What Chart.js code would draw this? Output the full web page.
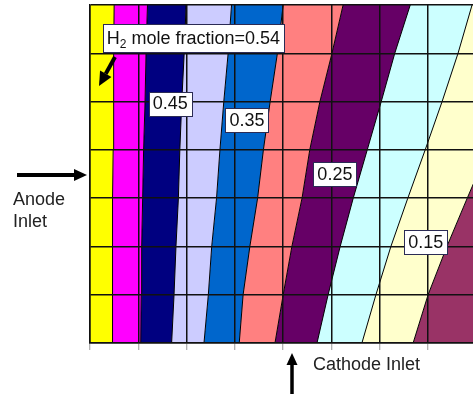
<!DOCTYPE html>
<html>
<head>
<meta charset="utf-8">
<script src="https://cdn.jsdelivr.net/npm/chart.js@4.4.0/dist/chart.umd.min.js"></script>
<style>
	html, body { margin: 0; padding: 0; background: #fff; overflow: hidden; }
	#chart-canvas { position: absolute; left: 0; top: 0; }
</style>
</head>
<body>
<canvas id="chart-canvas" width="500" height="394"></canvas>
<script>
// grid rows (cells up from the bottom edge) where each contour was read
const rows = [0, 1, 2, 3, 4, 5, 6, 7]

// contour positions, in grid cells from the anode side, at each row
const iso_0525 = [0.46, 0.46, 0.47, 0.47, 0.48, 0.49, 0.49, 0.50]
const iso_0475 = [1.05, 1.06, 1.07, 1.09, 1.11, 1.14, 1.16, 1.19]
const iso_0425 = [1.69, 1.74, 1.78, 1.83, 1.86, 1.90, 1.95, 1.99]
const iso_0375 = [2.36, 2.45, 2.52, 2.62, 2.69, 2.77, 2.86, 2.93]
const iso_0325 = [3.09, 3.17, 3.31, 3.47, 3.59, 3.73, 3.88, 4.00]
const iso_0275 = [3.83, 4.00, 4.18, 4.39, 4.55, 4.76, 5.01, 5.24]
const iso_0225 = [4.70, 4.93, 5.18, 5.45, 5.74, 6.03, 6.31, 6.63]
const iso_0175 = [5.63, 5.92, 6.23, 6.58, 6.94, 7.29, 7.62, 7.91]
const iso_0125 = [6.69, 7.00, 7.39, 7.81, 8.24, 8.70, 9.15, 9.63]

// outer edges of the field
const anode_edge = [0, 0, 0, 0, 0, 0, 0, 0]
const far_edge = [12, 12, 12, 12, 12, 12, 12, 12]

// band colours, anode side first (0.54 down to 0.10)
const band_colours = ['#ffff00', '#ff00ff', '#000080', '#ccccff', '#0066cc',
	'#ff8080', '#660066', '#ccffff', '#ffffcc', '#993366']

// boxed labels: text and the cell where they sit
const label_texts = ['0.45', '0.35', '0.25', '0.15']
const label_x = [1.66, 3.25, 5.07, 6.95]
const label_y = [4.96, 4.62, 3.50, 2.09]
const title_x = 2.14
const title_y = 6.31

const FONT = '18px "Liberation Sans", Arial, sans-serif'
const SUB_FONT = '12px "Liberation Sans", Arial, sans-serif'

function to_points(values) {
	let points = []
	for (let i = 0; i < rows.length; i ++) {
		points.push({x: values[i], y: rows[i]})
	}
	return points
}

function make_datasets() {
	let lines = [anode_edge, iso_0525, iso_0475, iso_0425, iso_0375, iso_0325,
		iso_0275, iso_0225, iso_0175, iso_0125, far_edge]
	let datasets = []
	for (let i = 0; i < lines.length; i ++) {
		let is_edge = (i == 0 || i == lines.length - 1)
		datasets.push({
			data: to_points(lines[i]),
			borderColor: '#000',
			borderWidth: is_edge ? 0 : 1,
			backgroundColor: i == 0 ? 'transparent' : band_colours[i - 1],
			fill: i == 0 ? false : '-1',
			pointRadius: 0,
			tension: 0
		})
	}
	return datasets
}

function draw_arrow(ctx, x1, y1, x2, y2, width, head_len, head_w) {
	let angle = Math.atan2(y2 - y1, x2 - x1)
	let bx = x2 - Math.cos(angle) * head_len
	let by = y2 - Math.sin(angle) * head_len
	ctx.strokeStyle = '#000'
	ctx.fillStyle = '#000'
	ctx.lineWidth = width
	ctx.beginPath()
	ctx.moveTo(x1, y1)
	ctx.lineTo(bx, by)
	ctx.stroke()
	ctx.beginPath()
	ctx.moveTo(x2, y2)
	ctx.lineTo(bx + Math.sin(angle) * head_w / 2, by - Math.cos(angle) * head_w / 2)
	ctx.lineTo(bx - Math.sin(angle) * head_w / 2, by + Math.cos(angle) * head_w / 2)
	ctx.closePath()
	ctx.fill()
}

function draw_box(ctx, cx, cy, w, h) {
	let left = Math.round(cx - w / 2) + 0.5
	let top = Math.round(cy - h / 2) + 0.5
	ctx.fillStyle = '#fff'
	ctx.strokeStyle = '#2b2b55'
	ctx.lineWidth = 1
	ctx.fillRect(left, top, Math.round(w), Math.round(h))
	ctx.strokeRect(left, top, Math.round(w), Math.round(h))
}

const annotations = {
	id: 'annotations',
	afterDraw(chart) {
		let ctx = chart.ctx
		let xs = chart.scales.x
		let ys = chart.scales.y
		let area = chart.chartArea
		ctx.save()
		ctx.font = FONT
		ctx.textBaseline = 'middle'

		// value labels
		for (let i = 0; i < label_texts.length; i ++) {
			let cx = xs.getPixelForValue(label_x[i])
			let cy = ys.getPixelForValue(label_y[i])
			let w = ctx.measureText(label_texts[i]).width + 8
			draw_box(ctx, cx, cy, w, 24)
			ctx.fillStyle = '#111'
			ctx.textAlign = 'center'
			ctx.fillText(label_texts[i], cx, cy + 1)
		}

		// H2 mole fraction title with subscript
		let rest = ' mole fraction=0.54'
		ctx.font = FONT
		let w_h = ctx.measureText('H').width
		let w_rest = ctx.measureText(rest).width
		ctx.font = SUB_FONT
		let w_sub = ctx.measureText('2').width
		let total = w_h + w_sub + w_rest
		let tx = xs.getPixelForValue(title_x)
		let ty = ys.getPixelForValue(title_y)
		draw_box(ctx, tx, ty, total + 8, 28)
		let left = tx - total / 2
		ctx.fillStyle = '#111'
		ctx.textAlign = 'left'
		ctx.font = FONT
		ctx.fillText('H', left, ty + 1)
		ctx.font = SUB_FONT
		ctx.fillText('2', left + w_h, ty + 6)
		ctx.font = FONT
		ctx.fillText(rest, left + w_h + w_sub, ty + 1)

		// arrows
		draw_arrow(ctx, 115, 57, 99, 86, 4, 14, 13)
		draw_arrow(ctx, 17, 175, area.left - 3, 175, 4, 13, 12)
		draw_arrow(ctx, 292, 394, 292, 353, 3.5, 12, 11)

		// inlet captions
		ctx.fillStyle = '#222'
		ctx.font = FONT
		ctx.textAlign = 'left'
		ctx.fillText('Anode', 13, 200)
		ctx.fillText('Inlet', 13, 222)
		ctx.fillText('Cathode Inlet', 313, 365)
		ctx.restore()
	}
}

new Chart(document.getElementById('chart-canvas'), {
	type: 'line',
	data: { datasets: make_datasets() },
	options: {
		indexAxis: 'y',
		responsive: false,
		animation: false,
		devicePixelRatio: 1,
		layout: { padding: { left: 90, top: 5, right: 23.6, bottom: 44 } },
		scales: {
			x: {
				type: 'linear', min: 0, max: 8,
				ticks: { display: false, stepSize: 1 },
				grid: { z: 1, color: '#111', lineWidth: 1.5, tickColor: '#999', tickWidth: 1, tickLength: 7 },
				border: { z: 1, color: '#111', width: 1.5 }
			},
			y: {
				type: 'linear', min: 0, max: 7,
				ticks: { display: false, stepSize: 1 },
				grid: { z: 1, color: '#111', lineWidth: 1.5, drawTicks: false },
				border: { z: 1, color: '#111', width: 1.5 }
			}
		},
		plugins: {
			legend: { display: false },
			tooltip: { enabled: false }
		}
	},
	plugins: [annotations]
})
</script>
</body>
</html>
